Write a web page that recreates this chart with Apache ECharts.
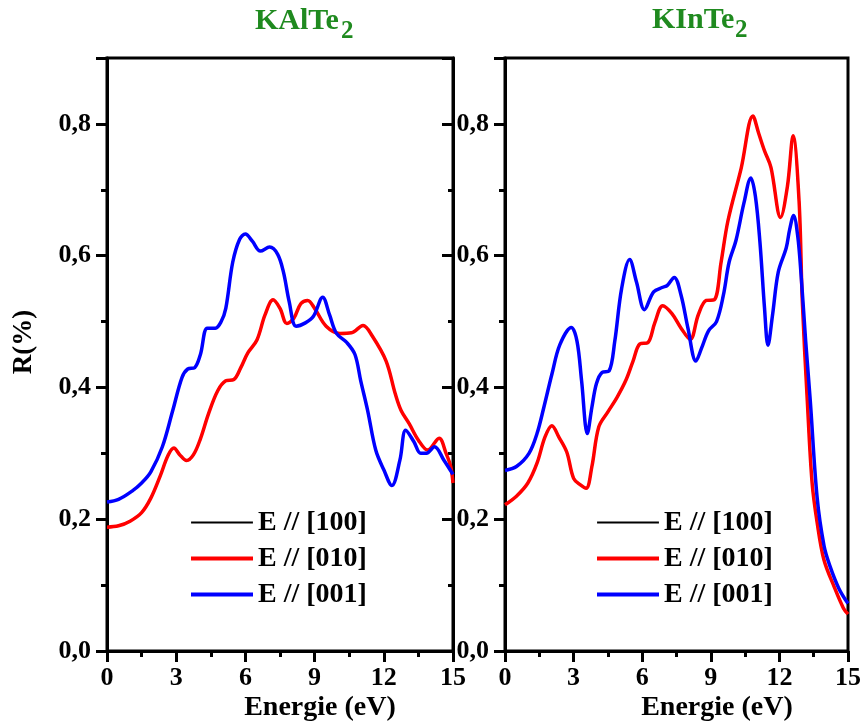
<!DOCTYPE html>
<html>
<head>
<meta charset="utf-8">
<script src="https://cdn.jsdelivr.net/npm/echarts@6/dist/echarts.min.js"></script>
<style>
  html, body { margin: 0; padding: 0; background: #fff; }
  #chart { width: 864px; height: 726px; }
</style>
</head>
<body>
<div id="chart"></div>
<script>
// Reflectivity R(E) for KAlTe2 and KInTe2, three polarisations
const energyTicks = [0, 3, 6, 9, 12, 15];
const reflTicks = [0, 0.2, 0.4, 0.6, 0.8];
const seriesNames = ['E // [100]', 'E // [010]', 'E // [001]'];
const panelTitles = ['KAlTe', 'KInTe'];

// KAlTe2
const kal_010 = [
  [0,0.188],[0.5,0.19],[1.0,0.197],[1.5,0.21],[1.9,0.232],[2.3,0.265],[2.65,0.297],[2.9,0.308],
  [3.15,0.298],[3.45,0.289],[3.75,0.298],[4.05,0.322],[4.4,0.36],[4.8,0.395],[5.15,0.41],[5.5,0.412],
  [5.8,0.43],[6.1,0.452],[6.5,0.472],[6.85,0.51],[7.2,0.533],[7.5,0.52],[7.8,0.497],[8.1,0.505],
  [8.4,0.527],[8.7,0.532],[9.0,0.52],[9.5,0.493],[10.1,0.482],[10.6,0.483],[11.1,0.494],[11.5,0.478],
  [12.1,0.44],[12.5,0.39],[12.75,0.365],[13.1,0.345],[13.5,0.32],[13.9,0.305],[14.4,0.323],
  [14.7,0.30],[14.9,0.28],[15,0.255]
];
const kal_001 = [
  [0,0.226],[0.5,0.23],[1.1,0.243],[1.5,0.255],[1.9,0.272],[2.4,0.31],[2.85,0.365],[3.25,0.415],
  [3.5,0.428],[3.8,0.43],[4.05,0.45],[4.35,0.49],[4.7,0.49],[4.95,0.5],[5.15,0.52],[5.45,0.59],
  [5.75,0.625],[6.0,0.633],[6.3,0.622],[6.65,0.607],[7.05,0.613],[7.4,0.602],[7.65,0.575],[7.9,0.53],
  [8.2,0.493],[8.6,0.498],[8.95,0.508],[9.35,0.537],[9.65,0.51],[9.95,0.482],[10.4,0.468],[10.75,0.45],
  [11.0,0.41],[11.3,0.365],[11.65,0.305],[12.0,0.275],[12.35,0.251],[12.7,0.29],[12.95,0.335],
  [13.3,0.318],[13.6,0.30],[13.85,0.3],[14.2,0.31],[14.6,0.29],[15,0.268]
];
// E // [100] coincides with E // [010]; it is drawn underneath the red curve
const kal_100 = kal_010;

// KInTe2
const kin_010 = [
  [0,0.222],[0.5,0.235],[1.0,0.255],[1.4,0.285],[1.75,0.325],[2.05,0.342],[2.35,0.325],[2.7,0.302],
  [3.0,0.262],[3.3,0.252],[3.55,0.247],[3.8,0.28],[4.1,0.34],[4.5,0.363],[4.9,0.385],[5.3,0.412],
  [5.6,0.44],[5.9,0.466],[6.25,0.468],[6.55,0.498],[6.9,0.524],[7.3,0.512],[7.7,0.49],[8.1,0.473],
  [8.45,0.51],[8.8,0.532],[9.15,0.533],[9.45,0.59],[9.75,0.653],[10.33,0.733],[10.84,0.812],
  [11.1,0.785],[11.35,0.759],[11.63,0.734],[12.05,0.658],[12.35,0.705],[12.6,0.782],[12.86,0.683],
  [13.0,0.532],[13.22,0.38],[13.43,0.255],[13.65,0.195],[13.95,0.138],[14.4,0.097],[14.8,0.065],[15,0.056]
];
const kin_001 = [
  [0,0.274],[0.5,0.28],[1.05,0.3],[1.4,0.33],[1.7,0.37],[2.05,0.42],[2.4,0.465],[2.9,0.491],
  [3.15,0.47],[3.35,0.41],[3.6,0.33],[3.8,0.37],[4.0,0.406],[4.25,0.423],[4.55,0.425],[4.8,0.47],
  [5.1,0.55],[5.45,0.594],[5.75,0.56],[6.1,0.518],[6.5,0.545],[6.9,0.552],[7.1,0.555],[7.4,0.567],
  [7.7,0.54],[8.0,0.49],[8.35,0.44],[8.6,0.46],[8.9,0.486],[9.25,0.5],[9.55,0.54],[9.8,0.59],
  [10.1,0.623],[10.45,0.68],[10.75,0.718],[10.95,0.69],[11.15,0.62],[11.35,0.52],[11.5,0.464],
  [11.7,0.51],[11.95,0.575],[12.3,0.612],[12.45,0.64],[12.62,0.661],[12.8,0.63],[12.95,0.57],
  [13.15,0.47],[13.35,0.38],[13.65,0.233],[13.95,0.16],[14.2,0.13],[14.6,0.095],[15,0.072]
];
const kin_100 = kin_010;

const panelData = [
  [kal_100, kal_010, kal_001],
  [kin_100, kin_010, kin_001]
];

const FONT = '"Liberation Serif", "Times New Roman", serif';
const colors = ['#000000', '#ff0000', '#0000ff'];
const widths = [2, 3.5, 3.5];
// legend key shapes: a thin bar for [100], thicker bars for the others
const legendIcons = [
  'path://M0,0H62V0.01H0Z M0,1H62V3H0Z M0,4H62V4.01H0Z',
  'rect',
  'rect'
];

const gridLefts = [107, 505];
const gridWidth = 346;

const chart = echarts.init(document.getElementById('chart'));

const grids = gridLefts.map(l => ({
  left: l, top: 58, width: gridWidth, bottom: 75,
  show: true, borderColor: '#000', borderWidth: 3, backgroundColor: 'transparent'
}));

const xAxes = [0, 1].map(i => ({
  type: 'value', gridIndex: i, min: 0, max: 15, interval: 3,
  axisLine: { show: true, onZero: false, lineStyle: { color: '#000', width: 3 } },
  axisTick: { show: true, inside: false, length: 11, lineStyle: { color: '#000', width: 3 } },
  minorTick: { show: true, splitNumber: 2, length: 6, lineStyle: { color: '#000', width: 3 } },
  splitLine: { show: false },
  axisLabel: {
    margin: 14, color: '#000', fontFamily: FONT, fontWeight: 'bold', fontSize: 26,
    formatter: v => energyTicks.includes(v) ? String(v) : ''
  }
}));

const yAxes = [];
[0, 1].forEach(i => {
  yAxes.push({
    type: 'value', gridIndex: i, min: 0, max: 0.9, interval: 0.2,
    axisLine: { show: true, onZero: false, lineStyle: { color: '#000', width: 3 } },
    axisTick: { show: true, inside: false, length: 11, lineStyle: { color: '#000', width: 3 } },
    minorTick: { show: true, splitNumber: 2, length: 6, lineStyle: { color: '#000', width: 3 } },
    splitLine: { show: false },
    axisLabel: {
      margin: 16, color: '#000', fontFamily: FONT, fontWeight: 'bold', fontSize: 26,
      showMaxLabel: false,
      formatter: v => reflTicks.some(t => Math.abs(t - v) < 1e-9) ? v.toFixed(1).replace('.', ',') : ''
    }
  });
});
// mirrored right-hand axis of the first panel, ticks pointing inward
yAxes.push({
  type: 'value', gridIndex: 0, position: 'right', min: 0, max: 0.9, interval: 0.2,
  axisLine: { show: true, onZero: false, lineStyle: { color: '#000', width: 3 } },
  axisTick: { show: true, inside: true, length: 11, lineStyle: { color: '#000', width: 3 } },
  minorTick: { show: true, splitNumber: 2, length: 5, lineStyle: { color: '#000', width: 3 } },
  splitLine: { show: false },
  axisLabel: { show: false }
});

const series = [];
[0, 1].forEach(p => {
  seriesNames.forEach((name, k) => {
    series.push({
      name: name, type: 'line', xAxisIndex: p, yAxisIndex: p,
      data: panelData[p][k], smooth: 0.35, showSymbol: false, symbol: 'none',
      lineStyle: { color: colors[k], width: widths[k] },
      itemStyle: { color: colors[k] },
      z: 2 + k, silent: true, animation: false, clip: true
    });
  });
});

const legendBase = {
  orient: 'vertical', top: 503, itemWidth: 62, itemHeight: 4, itemGap: 7,
  selectedMode: false,
  textStyle: { fontFamily: FONT, fontWeight: 'bold', fontSize: 28, color: '#000', lineHeight: 29 },
  data: seriesNames.map((n, k) => ({ name: n, icon: legendIcons[k], itemStyle: { color: colors[k] } }))
};
const legends = [
  Object.assign({}, legendBase, { left: 186 }),
  Object.assign({}, legendBase, { left: 592 })
];

const green = '#1f8a1f';
const graphics = [
  { type: 'text', x: 255, y: 6, style: { text: panelTitles[0], fontFamily: FONT, fontWeight: 'bold', fontSize: 30, fill: green } },
  { type: 'text', x: 341, y: 19, style: { text: '2', fontFamily: FONT, fontWeight: 'bold', fontSize: 25, fill: green } },
  { type: 'text', x: 652, y: 5, style: { text: panelTitles[1], fontFamily: FONT, fontWeight: 'bold', fontSize: 30, fill: green } },
  { type: 'text', x: 735, y: 18, style: { text: '2', fontFamily: FONT, fontWeight: 'bold', fontSize: 25, fill: green } },
  { type: 'text', x: 320, y: 708, style: { text: 'Energie (eV)', fontFamily: FONT, fontWeight: 'bold', fontSize: 28, fill: '#000', align: 'center', verticalAlign: 'middle' } },
  { type: 'text', x: 717, y: 708, style: { text: 'Energie (eV)', fontFamily: FONT, fontWeight: 'bold', fontSize: 28, fill: '#000', align: 'center', verticalAlign: 'middle' } },
  { type: 'text', x: 24, y: 342, rotation: Math.PI / 2, style: { text: 'R(%)', fontFamily: FONT, fontWeight: 'bold', fontSize: 27, fill: '#000', align: 'center', verticalAlign: 'middle' } }
];

chart.setOption({
  backgroundColor: '#fff',
  animation: false,
  grid: grids,
  xAxis: xAxes,
  yAxis: yAxes,
  legend: legends,
  series: series,
  graphic: graphics
});
</script>
</body>
</html>
